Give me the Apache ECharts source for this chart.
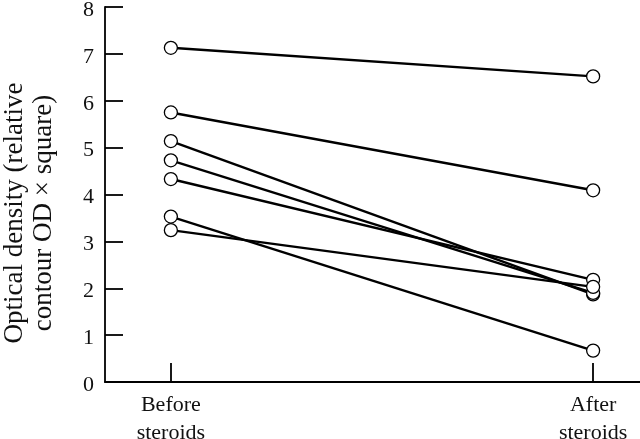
<!DOCTYPE html>
<html>
<head>
<meta charset="utf-8">
<script src="https://cdn.jsdelivr.net/npm/echarts@6/dist/echarts.min.js"></script>
<style>
  html, body { margin: 0; padding: 0; background: #fff; }
  #chart { width: 640px; height: 439px; }
</style>
</head>
<body>
<div id="chart"></div>
<script>
// groups on the x axis
const categories = ['Before\nsteroids', 'After\nsteroids'];
// one entry per subject
const beforeValues = [7.13, 5.75, 5.14, 4.73, 4.33, 3.53, 3.24];
const afterValues = [6.52, 4.09, 1.87, 1.90, 2.18, 0.67, 2.03];
const yMin = 0, yMax = 8, yStep = 1;
const yTitle = 'Optical density (relative\ncontour OD \u00d7 square)';

const serif = '"Liberation Serif", "DejaVu Serif", serif';

var series = [];
for (var i = 0; i < beforeValues.length; i++) {
    series.push({
        type: 'line',
        data: [[0, beforeValues[i]], [1, afterValues[i]]],
        symbol: 'circle',
        symbolSize: 13,
        lineStyle: { color: '#000', width: 2.4 },
        itemStyle: { color: '#fff', borderColor: '#000', borderWidth: 1.3 },
        emphasis: { disabled: true },
        z: 2
    });
}

const chart = echarts.init(document.getElementById('chart'));
chart.setOption({
    animation: false,
    grid: { left: 105, right: 0, top: 7, bottom: 57, outerBoundsMode: 'none' },
    xAxis: {
        type: 'value',
        min: -0.156,
        max: 1.111,
        splitLine: { show: false },
        axisLine: { onZero: false, lineStyle: { color: '#000', width: 1.8 } },
        axisTick: {
            inside: true, length: 19, customValues: [0, 1],
            lineStyle: { color: '#000', width: 1.8 }
        },
        axisLabel: {
            customValues: [0, 1],
            formatter: function (v) { return categories[Math.round(v)]; },
            color: '#111', fontFamily: serif, fontSize: 22, lineHeight: 28, margin: 9
        }
    },
    yAxis: {
        type: 'value',
        min: yMin,
        max: yMax,
        interval: yStep,
        splitLine: { show: false },
        axisLine: { show: true, onZero: false, lineStyle: { color: '#000', width: 1.8 } },
        axisTick: { inside: true, length: 18, lineStyle: { color: '#000', width: 1.8 } },
        axisLabel: {
            color: '#111', fontFamily: serif, fontSize: 22, margin: 11,
            formatter: '{v|{value}}',
            rich: {
                v: { color: '#111', fontFamily: serif, fontSize: 22, padding: [6, 0, 0, 0] }
            }
        }
    },
    graphic: [{
        type: 'text',
        x: 29,
        y: 213,
        rotation: Math.PI / 2,
        style: {
            text: yTitle,
            font: '27px ' + serif,
            lineHeight: 29,
            fill: '#111',
            align: 'center',
            verticalAlign: 'middle'
        }
    }],
    series: series
});
</script>
</body>
</html>
